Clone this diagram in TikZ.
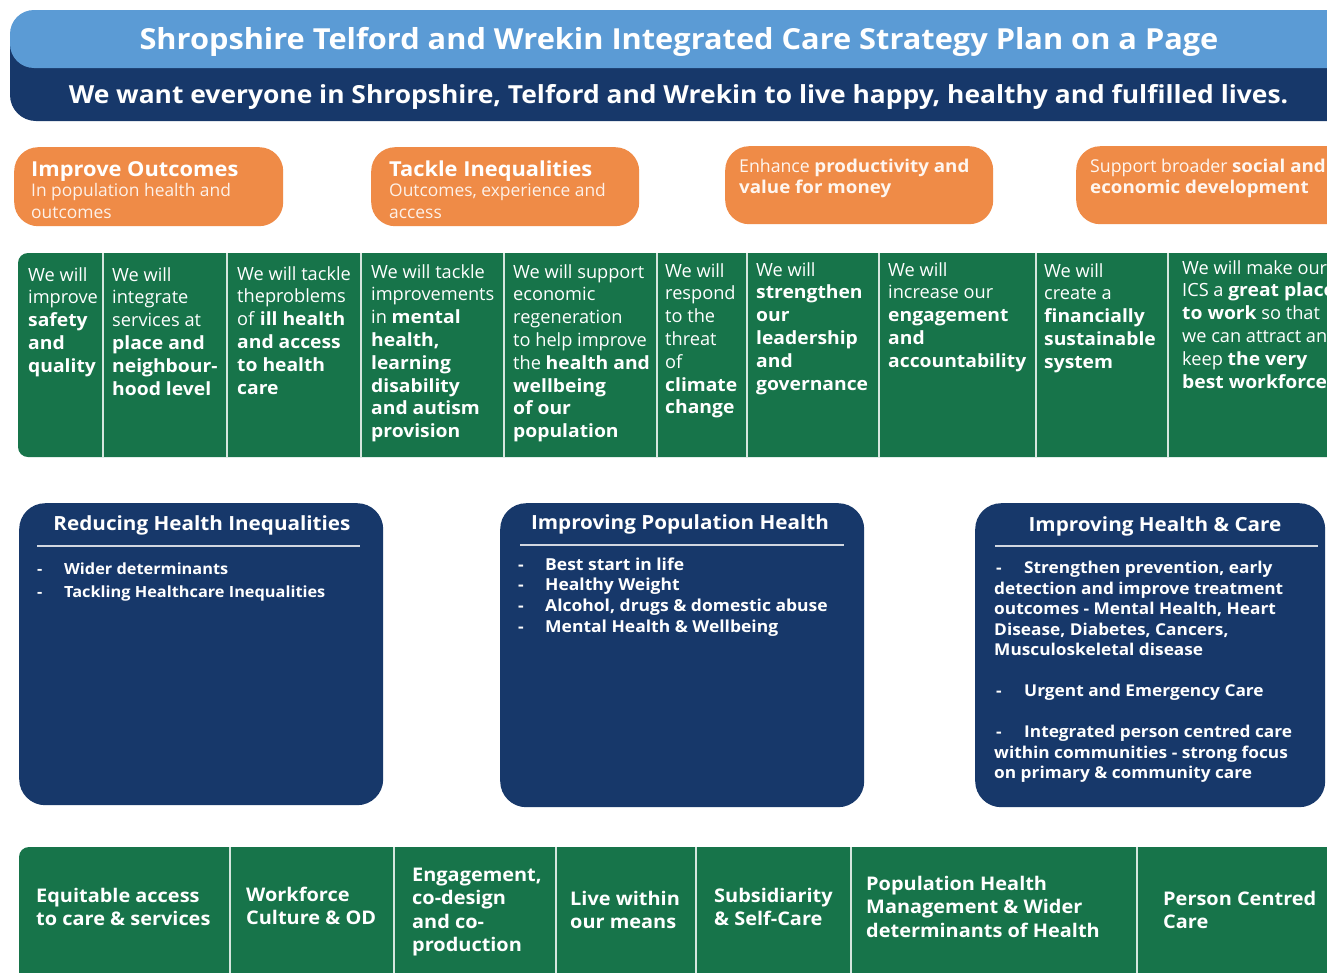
\documentclass[tikz,border=0pt]{standalone}
\usepackage{fontspec}
\setmainfont{Open Sans}[BoldFeatures={FakeStretch=1.06}]
\definecolor{hblue}{HTML}{5B9BD5}
\definecolor{navy}{HTML}{17386A}
\definecolor{orng}{HTML}{EF8B47}
\definecolor{grn}{HTML}{17744A}
\newcommand\cellfont{\fontsize{18.2}{22.8}\selectfont}
\newcommand\dashitem[1]{\makebox[27pt][l]{-}#1}
\begin{document}
\begin{tikzpicture}[x=1pt,y=-1pt,
  hdr/.style={text=white, inner sep=0, font=\bfseries\fontsize{29}{32}\selectfont},
  tagline/.style={text=white, inner sep=0, font=\bfseries\fontsize{24.9}{30}\selectfont},
  obox/.style={fill=orng, rounded corners=24, inner sep=0, anchor=north west},
  otitle/.style={text=white, inner sep=0, anchor=base west, font=\bfseries\fontsize{20.6}{24}\selectfont},
  osub/.style={text=white!88!orng, inner sep=0, anchor=north west, align=left, font=\fontsize{17.4}{21.5}\selectfont},
  ostat/.style={text=white!92!orng, inner sep=0, anchor=north west, align=left, font=\fontsize{17.7}{21.5}\selectfont},
  cell/.style={text=white, inner sep=0, anchor=north west, align=left, font=\cellfont},
  divider/.style={draw=white!82!grn, line width=1.6pt},
  bbox/.style={fill=navy, rounded corners=26, inner sep=0, anchor=north west},
  btitle/.style={text=white, inner sep=0, anchor=base, font=\bfseries\fontsize{19.5}{23}\selectfont},
  rule/.style={draw=white!80!navy, line width=1.5pt},
  blist/.style={text=white, inner sep=0, anchor=north west, align=left},
  pcell/.style={text=white, inner sep=0, anchor=north west, align=left, font=\bfseries\fontsize{18.8}{23.5}\selectfont}
]
\useasboundingbox (0,0) rectangle (1327,972);
\clip (0,0) rectangle (1327,972);
\fill[white] (0,0) rectangle (1327,972);

% header
\fill[navy, rounded corners=26] (10,14) rectangle (1370,121);
\fill[hblue, rounded corners=24] (10,10) rectangle (1370,68);
\node[hdr, anchor=base] (title) at (679,49) {Shropshire Telford and Wrekin Integrated Care Strategy Plan on a Page};
\node[tagline, anchor=base] (tag) at (678.5,103) {We want everyone in Shropshire, Telford and Wrekin to live happy, healthy and fulfilled lives.};

% orange aims
\node[obox, minimum width=269, minimum height=79] (o1) at (14,147) {};
\node[obox, minimum width=268, minimum height=79] (o2) at (371,147) {};
\node[obox, minimum width=268, minimum height=78] (o3) at (725,146) {};
\node[obox, minimum width=290, minimum height=78] (o4) at (1076,146) {};
\node[otitle] (o1t) at (31,176) {Improve Outcomes};
\node[osub] (o1s) at (31,181.5) {\strut In population health and\\outcomes};
\node[otitle] (o2t) at (389,176) {Tackle Inequalities};
\node[osub] (o2s) at (389,181.5) {\strut Outcomes, experience and\\access};
\node[ostat] (o3s) at (739,157) {\strut Enhance \textbf{productivity and}\\\textbf{value for money}};
\node[ostat] (o4s) at (1090,157) {\strut Support broader \textbf{social and}\\\textbf{economic development}};

% green ambitions row
\fill[grn, rounded corners=10] (18,253) rectangle (1370,457);
\foreach \x/\n in {103/a,227/b,361/c,504/d,657/e,747/f,879/g,1036/h,1168/i}{
  \coordinate (dt\n) at (\x,253);
  \coordinate (db\n) at (\x,457);
  \draw[divider] (dt\n) -- (db\n);
}
\node[cell] (c1) at (28,265) {\strut We will\\improve\\\textbf{safety}\\\textbf{and}\\\textbf{quality}};
\node[cell] (c2) at (112,265) {\strut We will\\integrate\\services at\\\textbf{place and}\\\textbf{neighbour-}\\\textbf{hood level}};
\node[cell] (c3) at (237,264) {\strut We will tackle\\theproblems\\of \textbf{ill health}\\\textbf{and access}\\\textbf{to health}\\\textbf{care}};
\node[cell] (c4) at (371,262) {\strut We will tackle\\improvements\\in \textbf{mental}\\\textbf{health,}\\\textbf{learning}\\\textbf{disability}\\\textbf{and autism}\\\textbf{provision}};
\node[cell] (c5) at (513,262) {\strut We will support\\economic\\regeneration\\to help improve\\the \textbf{health and}\\\textbf{wellbeing}\\\textbf{of our}\\\textbf{population}};
\node[cell] (c6) at (665,261) {\strut We will\\respond\\to the\\threat\\of\\\textbf{climate}\\\textbf{change}};
\node[cell] (c7) at (756,260) {\strut We will\\\textbf{strengthen}\\\textbf{our}\\\textbf{leadership}\\\textbf{and}\\\textbf{governance}};
\node[cell] (c8) at (888,260) {\strut We will\\increase our\\\textbf{engagement}\\\textbf{and}\\\textbf{accountability}};
\node[cell] (c9) at (1044,261) {\strut We will\\create a\\\textbf{financially}\\\textbf{sustainable}\\\textbf{system}};
\node[cell] (c10) at (1182,258) {\strut We will make our\\ICS a \textbf{great place}\\\textbf{to work} so that\\we can attract and\\keep \textbf{the very}\\\textbf{best workforce}};

% blue priority boxes
\node[bbox, minimum width=364, minimum height=302] (b1) at (19,503) {};
\node[bbox, minimum width=364, minimum height=304] (b2) at (500,503) {};
\node[bbox, minimum width=350, minimum height=304] (b3) at (975,503) {};
\node[btitle] (b1t) at (202,530) {Reducing Health Inequalities};
\node[btitle] (b2t) at (680,529) {Improving Population Health};
\node[btitle] (b3t) at (1155,531) {Improving Health \& Care};
\coordinate (r1a) at (37,546); \coordinate (r1b) at (360,546);
\coordinate (r2a) at (520,545); \coordinate (r2b) at (844,545);
\coordinate (r3a) at (995,546); \coordinate (r3b) at (1318,546);
\draw[rule] (r1a) -- (r1b);
\draw[rule] (r2a) -- (r2b);
\draw[rule] (r3a) -- (r3b);
\node[blist, font=\bfseries\fontsize{15.4}{23}\selectfont] (b1l) at (37,558) {\strut\dashitem{Wider determinants}\\\dashitem{Tackling Healthcare Inequalities}};
\node[blist, font=\bfseries\fontsize{16.5}{20.7}\selectfont] (b2l) at (518,555.5) {\strut\dashitem{Best start in life}\\\dashitem{Healthy Weight}\\\dashitem{Alcohol, drugs \& domestic abuse}\\\dashitem{Mental Health \& Wellbeing}};
\node[blist, font=\bfseries\fontsize{16.3}{20.5}\selectfont] (b3l) at (994,559) {\strut\makebox[30pt][l]{\hspace{2pt}-}Strengthen prevention, early\\detection and improve treatment\\outcomes - Mental Health, Heart\\Disease, Diabetes, Cancers,\\Musculoskeletal disease\\[20.5pt]\makebox[30pt][l]{\hspace{2pt}-}Urgent and Emergency Care\\[20.5pt]\makebox[30pt][l]{\hspace{2pt}-}Integrated person centred care\\within communities - strong focus\\on primary \& community care};

% green principles row
\fill[grn, rounded corners=10] (19,847) rectangle (1370,1000);
\foreach \x/\n in {230/a,394/b,556/c,696/d,851/e,1137/f}{
  \coordinate (pt\n) at (\x,847);
  \coordinate (pb\n) at (\x,1000);
  \draw[divider] (pt\n) -- (pb\n);
}
\node[pcell] (p1) at (36,885.5) {\strut Equitable access\\to care \& services};
\node[pcell] (p2) at (246,884.5) {\strut Workforce\\Culture \& OD};
\node[pcell] (p3) at (412,864.5) {\strut Engagement,\\co-design\\and co-\\production};
\node[pcell] (p4) at (570,888.5) {\strut Live within\\our means};
\node[pcell] (p5) at (714,885.5) {\strut Subsidiarity\\\& Self-Care};
\node[pcell] (p6) at (866,873.5) {\strut Population Health\\Management \& Wider\\determinants of Health};
\node[pcell] (p7) at (1163,888.5) {\strut Person Centred\\Care};
\end{tikzpicture}
\end{document}
